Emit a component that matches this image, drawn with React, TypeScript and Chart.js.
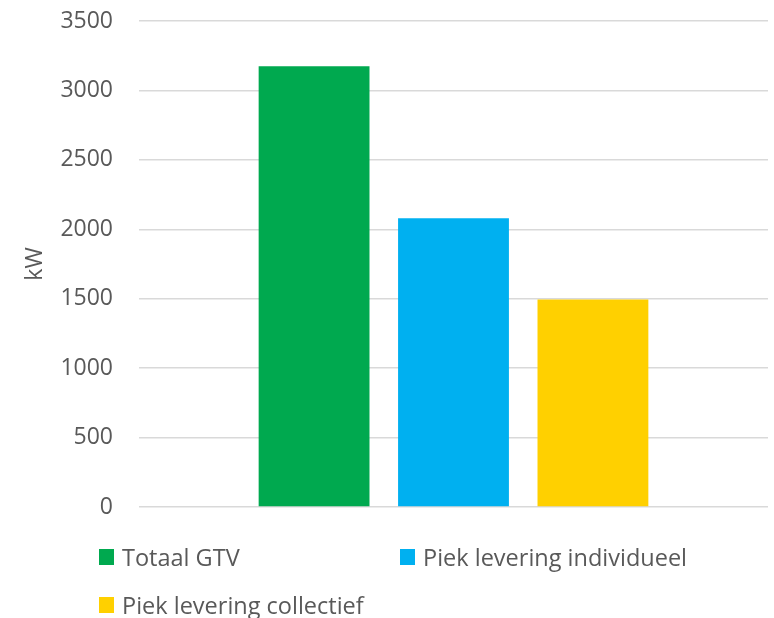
import React, { useEffect, useRef } from "react";
import { Chart, registerables } from "chart.js";

Chart.register(...registerables);

// Series shown in the chart (kW)
const categories: string[] = [""];
const seriesNames: string[] = ["Totaal GTV", "Piek levering individueel", "Piek levering collectief"];
const seriesValues: number[] = [3175, 2080, 1495];
const seriesColors: string[] = ["#00a94f", "#00b0f0", "#ffd000"];

// Value axis
const yMin = 0;
const yMax = 3500;
const yStep = 500;
const yTitle = "kW";

const FONT = "'Open Sans', 'Noto Sans', sans-serif";
const TEXT = "#595959";

export default function App() {
  const canvasRef = useRef<HTMLCanvasElement | null>(null);

  useEffect(() => {
    if (!canvasRef.current) return;
    const chart = new Chart(canvasRef.current, {
      type: "bar",
      data: {
        labels: categories,
        datasets: seriesNames.map((name, i) => ({
          label: name,
          data: [seriesValues[i]],
          backgroundColor: seriesColors[i],
          borderWidth: 0,
          categoryPercentage: 0.665,
          barPercentage: 0.795,
        })),
      },
      options: {
        animation: false,
        responsive: false,
        maintainAspectRatio: false,
        layout: { padding: { top: 21, right: 6, bottom: 111, left: 0 } },
        plugins: { legend: { display: false }, tooltip: { enabled: false } },
        scales: {
          x: { display: false },
          y: {
            min: yMin,
            max: yMax,
            ticks: {
              stepSize: yStep,
              padding: 26,
              color: TEXT,
              font: { family: FONT, size: 23 },
              callback: (v: any) => String(v),
            },
            grid: { color: "#d9d9d9", lineWidth: 1.5, drawTicks: false },
            border: { display: false },
            title: {
              display: true,
              text: yTitle,
              color: TEXT,
              font: { family: FONT, size: 23 },
              padding: { top: 22, bottom: 0 },
            },
            afterFit: (scale: any) => {
              scale.width = 139;
              scale.paddingTop = 0;
              scale.paddingBottom = 0;
            },
          },
        },
      },
    });
    return () => chart.destroy();
  }, []);

  const legendItem = (i: number, left: number, top: number) => (
    <div
      key={i}
      style={{
        position: "absolute",
        left,
        top,
        display: "flex",
        alignItems: "center",
        fontFamily: FONT,
        fontSize: 23.5,
        color: TEXT,
        whiteSpace: "nowrap",
        lineHeight: "30px",
      }}
    >
      <span
        style={{
          display: "inline-block",
          width: 15,
          height: 16,
          background: seriesColors[i],
          marginRight: 8,
        }}
      />
      <span>{seriesNames[i]}</span>
    </div>
  );

  return (
    <div
      style={{
        position: "fixed",
        left: 0,
        top: 0,
        width: 774,
        height: 618,
        background: "#ffffff",
        overflow: "hidden",
      }}
    >
      <canvas ref={canvasRef} width={774} height={618} style={{ display: "block" }} />
      {legendItem(0, 99, 542)}
      {legendItem(1, 400, 542)}
      {legendItem(2, 99, 590)}
    </div>
  );
}
